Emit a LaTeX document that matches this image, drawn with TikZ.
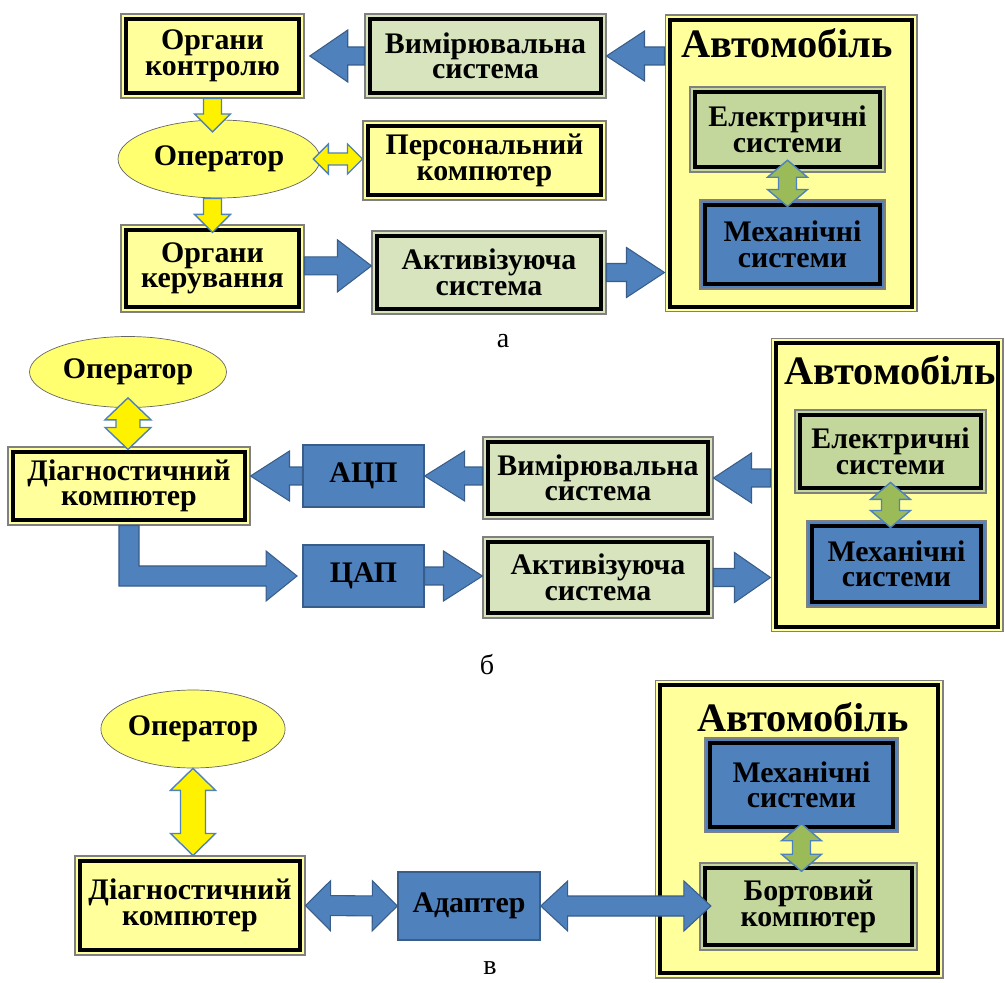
\documentclass[tikz,border=0pt]{standalone}
\usepackage{fontspec}
\setmainfont{Liberation Serif}
\usetikzlibrary{calc, shapes.geometric}

\definecolor{boxyellow}{HTML}{FFFF9C}
\definecolor{boxgreen}{HTML}{D7E4BD}
\definecolor{elgreen}{HTML}{C3D69B}
\definecolor{blockblue}{HTML}{4F81BD}
\definecolor{edgeblue}{HTML}{385D8A}
\definecolor{arrowgreen}{HTML}{9BBB59}
\definecolor{ovalyellow}{HTML}{FFFF70}

\newcommand\boxfont{\fontsize{17}{14.5}\selectfont\bfseries}

% direction and length between two points
\newcommand\baprep[2]{%
  \path (#1) coordinate (ba-s) (#2) coordinate (ba-e);
  \pgfpointdiff{\pgfpointanchor{ba-s}{center}}{\pgfpointanchor{ba-e}{center}}%
  \pgfgetlastxy\bax\bay
  \pgfmathsetmacro\balen{veclen(\bax,\bay)}%
  \pgfmathsetmacro\baang{atan2(\bay,\bax)}%
}
% block arrow: style, from, to, shaft, head, head length (px)
\newcommand\blockarrow[6]{%
  \baprep{#2}{#3}%
  \draw[#1, shift={(ba-s)}, rotate=\baang]
    (0pt,-#4*0.2845pt) -- (\balen pt-#6*0.569pt,-#4*0.2845pt)
    -- (\balen pt-#6*0.569pt,-#5*0.2845pt) -- (\balen pt,0pt)
    -- (\balen pt-#6*0.569pt,#5*0.2845pt) -- (\balen pt-#6*0.569pt,#4*0.2845pt)
    -- (0pt,#4*0.2845pt) -- cycle;
}
\newcommand\dblarrow[6]{%
  \baprep{#2}{#3}%
  \draw[#1, shift={(ba-s)}, rotate=\baang]
    (0pt,0pt) -- (#6*0.569pt,#5*0.2845pt) -- (#6*0.569pt,#4*0.2845pt)
    -- (\balen pt-#6*0.569pt,#4*0.2845pt) -- (\balen pt-#6*0.569pt,#5*0.2845pt)
    -- (\balen pt,0pt) -- (\balen pt-#6*0.569pt,-#5*0.2845pt)
    -- (\balen pt-#6*0.569pt,-#4*0.2845pt) -- (#6*0.569pt,-#4*0.2845pt)
    -- (#6*0.569pt,-#5*0.2845pt) -- cycle;
}

\begin{document}
\begin{tikzpicture}[
    x=0.02cm, y=-0.02cm,
    boxframe/.style={rectangle, draw=gray, line width=0.6pt, fill=#1, align=center, font=\boxfont},
    conv/.style={rectangle, draw=edgeblue, line width=0.8pt, fill=blockblue, font=\boxfont},
    oval/.style={ellipse, draw=black!60, thin, fill=ovalyellow, font=\boxfont, inner sep=0pt},
    cartitle/.style={font=\fontsize{23}{25}\selectfont\bfseries},
    sublabel/.style={font=\fontsize{16}{18}\selectfont},
    bluearrow/.style={fill=blockblue, draw=edgeblue, line width=0.6pt},
    yelarrow/.style={fill=yellow, draw=blockblue, line width=0.8pt},
    grnarrow/.style={fill=arrowgreen, draw=blockblue, line width=0.8pt}
]

\useasboundingbox (0,0) rectangle (1005,983);

% --- a ---
\node[boxframe=boxyellow, minimum width=3.66cm, minimum height=1.68cm] (orgk) at (212.5,56) {Органи\\контролю};
\node[boxframe=boxgreen, minimum width=4.82cm, minimum height=1.68cm] (vyma) at (485.5,56) {Вимірювальна\\система};
\node[boxframe=boxyellow, minimum width=5.04cm, minimum height=5.94cm] (avta) at (791,163.5) {};
\node[cartitle] (avta-t) at (787,43) {Автомобіль};
\node[boxframe=elgreen, minimum width=3.9cm, minimum height=1.7cm] (elea) at (787.5,129.5) {Електричні\\системи};
\node[boxframe=blockblue, minimum width=3.7cm, minimum height=1.78cm] (meha) at (792.5,244.5) {Механічні\\системи};
\node[oval, minimum width=4.04cm, minimum height=1.56cm] (opa) at (219,159) {Оператор};
\node[boxframe=boxyellow, minimum width=4.86cm, minimum height=1.58cm] (pka) at (484.5,160.5) {Персональний\\компютер};
\node[boxframe=boxyellow, minimum width=3.66cm, minimum height=1.74cm] (orgr) at (212.5,268.5) {Органи\\керування};
\node[boxframe=boxgreen, minimum width=4.68cm, minimum height=1.66cm] (akta) at (489,272.5) {Активізуюча\\система};
\node[sublabel] (la) at (503,341) {а};

% --- б ---
\node[oval, minimum width=3.94cm, minimum height=1.42cm] (opb) at (128,372) {Оператор};
\node[boxframe=boxyellow, minimum width=4.84cm, minimum height=1.56cm] (diagb) at (129,486) {Діагностичний\\компютер};
\node[conv, minimum width=2.42cm, minimum height=1.24cm] (adc) at (363.5,476) {АЦП};
\node[conv, minimum width=2.42cm, minimum height=1.24cm] (dac) at (363.5,576) {ЦАП};
\node[boxframe=boxgreen, minimum width=4.6cm, minimum height=1.64cm] (vymb) at (598,478) {Вимірювальна\\система};
\node[boxframe=boxgreen, minimum width=4.6cm, minimum height=1.62cm] (aktb) at (598,577.5) {Активізуюча\\система};
\node[boxframe=boxyellow, minimum width=4.64cm, minimum height=5.88cm] (avtb) at (887,485) {};
\node[cartitle] (avtb-t) at (890,370) {Автомобіль};
\node[boxframe=elgreen, minimum width=3.82cm, minimum height=1.66cm] (eleb) at (890.5,451.5) {Електричні\\системи};
\node[boxframe=blockblue, minimum width=3.58cm, minimum height=1.72cm] (mehb) at (896.5,564) {Механічні\\системи};
\node[sublabel] (lb) at (487,665) {б};

% --- в ---
\node[oval, minimum width=3.66cm, minimum height=1.56cm] (opc) at (193,729) {Оператор};
\node[boxframe=boxyellow, minimum width=4.6cm, minimum height=1.98cm] (diagc) at (190,905.5) {Діагностичний\\компютер};
\node[conv, minimum width=2.84cm, minimum height=1.36cm] (adapt) at (469,906) {Адаптер};
\node[boxframe=boxyellow, minimum width=5.76cm, minimum height=5.96cm] (avtc) at (799,829) {};
\node[cartitle] (avtc-t) at (803,717) {Автомобіль};
\node[boxframe=blockblue, minimum width=3.86cm, minimum height=1.88cm] (mehc) at (801.5,785) {Механічні\\системи};
\node[boxframe=elgreen, minimum width=4.34cm, minimum height=1.74cm] (bort) at (808.5,906.5) {Бортовий\\компютер};
\node[sublabel] (lc) at (490,968) {в};

% heavy inner frames
\foreach \n in {orgk,vyma,avta,elea,meha,pka,orgr,akta,diagb,vymb,aktb,avtb,eleb,mehb,diagc,avtc,mehc,bort}
  \draw[line width=2.6pt] ([shift={(3.1pt,3.1pt)}]\n.south west) rectangle ([shift={(-3.1pt,-3.1pt)}]\n.north east);

% arrows a
\blockarrow{bluearrow}{vyma.west}{[xshift=3pt]orgk.east}{18}{52}{38}
\blockarrow{bluearrow}{avta.west |- vyma.east}{vyma.east}{18}{50}{38}
\blockarrow{yelarrow}{orgk.south}{[yshift=-7pt]orgk.south |- opa.north}{18}{36}{18}
\blockarrow{yelarrow}{orgk.south |- opa.south}{[yshift=-4.5pt]orgr.north}{18}{36}{18}
\dblarrow{yelarrow}{[xshift=-4pt]opa.east}{pka.west |- opa.east}{12}{30}{15}
\blockarrow{bluearrow}{[yshift=1.5pt]orgr.east}{[yshift=1.5pt]akta.west |- orgr.east}{18}{52}{34}
\blockarrow{bluearrow}{akta.east}{avta.west |- akta.east}{18}{50}{38}
\dblarrow{grnarrow}{[yshift=7pt]elea.south}{[yshift=-4pt]elea.south |- meha.north}{18}{40}{17}

% arrows б
\dblarrow{yelarrow}{[yshift=5.7pt]opb.south}{[yshift=-1.7pt]opb.south |- diagb.north}{24}{46}{22}
\blockarrow{bluearrow}{adc.west}{diagb.east |- adc.west}{18}{50}{39}
\blockarrow{bluearrow}{vymb.west |- adc.east}{adc.east}{18}{50}{40}
\blockarrow{bluearrow}{avtb.west |- vymb.east}{vymb.east}{18}{50}{38}
\blockarrow{bluearrow}{dac.east}{aktb.west |- dac.east}{18}{50}{39}
\blockarrow{bluearrow}{aktb.east}{avtb.west |- aktb.east}{18}{50}{36}
\dblarrow{grnarrow}{[yshift=6.3pt]eleb.south}{[yshift=-4pt]eleb.south |- mehb.north}{18}{40}{17}
\draw[bluearrow] let \p1=(diagb.south), \p2=([xshift=-3pt]dac.west) in
  (\x1-5.7pt,\y1) -- (\x1-5.7pt,\y2-5.7pt) -- (\x2-17.6pt,\y2-5.7pt) -- (\x2-17.6pt,\y2-14.2pt)
  -- (\x2,\y2) -- (\x2-17.6pt,\y2+14.2pt) -- (\x2-17.6pt,\y2+5.7pt) -- (\x1+5.7pt,\y2+5.7pt)
  -- (\x1+5.7pt,\y1) -- cycle;

% arrows в
\dblarrow{yelarrow}{opc.south}{opc.south |- diagc.north}{25}{45}{22}
\dblarrow{bluearrow}{diagc.east}{adapt.west}{20}{50}{25}
\dblarrow{bluearrow}{adapt.east}{[xshift=6.5pt]bort.west |- adapt.east}{20}{50}{27}
\dblarrow{grnarrow}{[yshift=5pt]mehc.south}{[yshift=-5pt]mehc.south |- bort.north}{18}{40}{17}

\end{tikzpicture}
\end{document}
